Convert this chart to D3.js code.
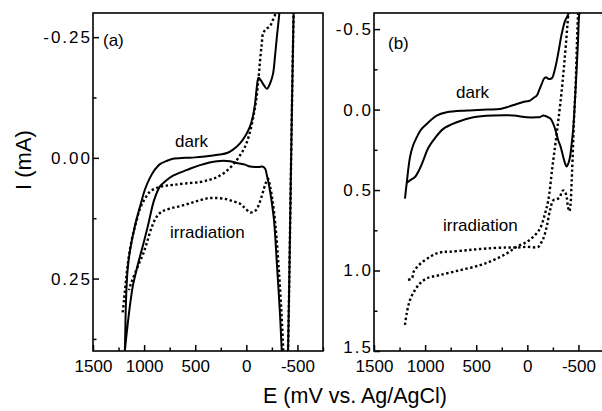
<!DOCTYPE html>
<html>
<head>
<meta charset="utf-8">
<script src="https://cdn.jsdelivr.net/npm/d3@7/dist/d3.min.js"></script>
<style>
  html, body { margin: 0; padding: 0; background: #fff; }
  svg { display: block; font-family: "Liberation Sans", Arial, sans-serif; }
</style>
</head>
<body>
<svg id="chart" width="602" height="411"></svg>
<script>
// Potential axis ticks (mV vs. Ag/AgCl), shared by both panels
const xMajorTicks = [1500, 1000, 500, 0, -500];
const xMinorTicks = [1250, 750, 250, -250, -750];

// Panel (a) current ticks (mA)
const yMajorTicksA = [-0.25, 0.00, 0.25];
const yMinorTicksA = [-0.125, 0.125, 0.375];
// Panel (b) current ticks (mA)
const yMajorTicksB = [-0.5, 0.0, 0.5, 1.0, 1.5];
const yMinorTicksB = [-0.25, 0.25, 0.75, 1.25];

// Panel (a): cyclic voltammogram in the dark, [E (mV), I (mA)]
const darkA = [
  [1192, 0.419], [1187, 0.388], [1177, 0.295], [1162, 0.233], [1138, 0.192],
  [1089, 0.140], [1040, 0.101], [991, 0.065], [942, 0.041], [893, 0.024],
  [845, 0.013], [776, 0.006], [717, 0.002], [600, 0.000], [502, -0.001],
  [404, -0.003], [326, -0.005], [258, -0.007], [189, -0.010], [130, -0.017],
  [62, -0.030], [3, -0.048], [-36, -0.065], [-65, -0.087], [-85, -0.112],
  [-104, -0.149], [-119, -0.166], [-144, -0.160], [-173, -0.150], [-202, -0.143],
  [-232, -0.154], [-261, -0.174], [-281, -0.211], [-300, -0.253], [-325, -0.304],
  [-339, -0.346], [-463, -0.346], [-462, -0.298], [-447, -0.118], [-432, 0.088],
  [-417, 0.295], [-408, 0.400], [-406, 0.429], [-354, 0.429],
  [-346, 0.398], [-329, 0.322], [-300, 0.223], [-271, 0.130], [-246, 0.088],
  [-222, 0.057], [-202, 0.037], [-183, 0.022], [-153, 0.018], [-124, 0.019],
  [-95, 0.019], [-36, 0.018], [13, 0.014], [81, 0.011], [160, 0.007],
  [287, 0.007], [453, 0.015], [580, 0.025], [717, 0.037], [796, 0.049],
  [845, 0.059], [903, 0.088], [962, 0.140], [1011, 0.181], [1060, 0.220],
  [1109, 0.264], [1138, 0.305], [1167, 0.357], [1187, 0.398], [1192, 0.419]
];

// Panel (a): cyclic voltammogram under irradiation
const irradA = [
  [1209, 0.320], [1197, 0.295], [1182, 0.264], [1167, 0.233], [1148, 0.202],
  [1118, 0.167], [1079, 0.134], [1040, 0.105], [991, 0.084], [942, 0.070],
  [874, 0.062], [796, 0.058], [717, 0.056], [600, 0.053], [453, 0.050],
  [355, 0.045], [287, 0.040], [209, 0.030], [130, 0.014], [62, -0.005],
  [13, -0.023], [-26, -0.046], [-65, -0.081], [-95, -0.118], [-117, -0.160],
  [-134, -0.201], [-150, -0.234], [-166, -0.259], [-202, -0.268], [-232, -0.273],
  [-261, -0.286], [-285, -0.298], [-310, -0.313], [-466, -0.346], [-462, -0.298],
  [-447, -0.118], [-432, 0.088], [-417, 0.295], [-408, 0.400], [-403, 0.429],
  [-369, 0.429], [-361, 0.398], [-344, 0.322], [-315, 0.223], [-285, 0.140],
  [-256, 0.088], [-232, 0.059], [-212, 0.043], [-192, 0.051], [-173, 0.063],
  [-153, 0.078], [-124, 0.096], [-100, 0.107], [-65, 0.112], [-36, 0.113],
  [13, 0.104], [62, 0.095], [130, 0.090], [209, 0.085], [306, 0.083],
  [385, 0.084], [473, 0.089], [551, 0.094], [649, 0.100], [747, 0.105],
  [825, 0.111], [874, 0.121], [923, 0.142], [972, 0.175], [1011, 0.200],
  [1040, 0.214], [1089, 0.239], [1128, 0.260], [1148, 0.274]
];

// Panel (b): cyclic voltammogram in the dark
const darkB = [
  [1197, 0.553], [1180, 0.457], [1148, 0.296], [1118, 0.223], [1082, 0.172],
  [1040, 0.124], [984, 0.089], [887, 0.037], [789, 0.017], [593, 0.006],
  [397, 0.000], [267, -0.003], [202, -0.014], [104, -0.035], [23, -0.050],
  [-26, -0.056], [-65, -0.074], [-92, -0.087], [-114, -0.118], [-141, -0.159],
  [-163, -0.192], [-183, -0.201], [-205, -0.192], [-238, -0.194], [-271, -0.254],
  [-303, -0.353], [-336, -0.469], [-369, -0.551], [-401, -0.593], [-417, -0.645],
  [-525, -0.645], [-508, -0.593], [-496, -0.428], [-483, -0.262], [-466, -0.056],
  [-450, 0.110], [-432, 0.223], [-417, 0.296], [-401, 0.335], [-385, 0.353],
  [-369, 0.335], [-352, 0.296], [-325, 0.229], [-303, 0.192], [-276, 0.130],
  [-254, 0.089], [-227, 0.056], [-205, 0.048], [-178, 0.040], [-156, 0.037],
  [-124, 0.046], [-92, 0.048], [5, 0.048], [137, 0.037], [333, 0.037],
  [529, 0.048], [691, 0.079], [822, 0.120], [920, 0.192], [972, 0.242],
  [1018, 0.316], [1060, 0.378], [1099, 0.419], [1148, 0.440], [1180, 0.457]
];

// Panel (b): cyclic voltammogram under irradiation
const irradB = [
  [1197, 1.338], [1180, 1.266], [1148, 1.183], [1099, 1.121], [1050, 1.080],
  [984, 1.049], [854, 1.028], [659, 0.998], [463, 0.967], [333, 0.936],
  [202, 0.894], [104, 0.853], [5, 0.822], [-58, 0.791], [-124, 0.739],
  [-173, 0.646], [-205, 0.564], [-246, 0.353], [-287, 0.151], [-329, -0.074],
  [-364, -0.304], [-401, -0.593], [-413, -0.675], [-501, -0.675], [-496, -0.593],
  [-486, -0.428], [-474, -0.180], [-456, 0.068], [-442, 0.316], [-432, 0.471],
  [-422, 0.595], [-411, 0.632], [-398, 0.607], [-385, 0.545], [-369, 0.511],
  [-352, 0.502], [-334, 0.514], [-320, 0.543], [-285, 0.558], [-254, 0.564],
  [-222, 0.626], [-189, 0.729], [-158, 0.799], [-141, 0.821], [-107, 0.853],
  [5, 0.853], [104, 0.857], [202, 0.857], [397, 0.863], [593, 0.874],
  [756, 0.883], [822, 0.884], [887, 0.894], [952, 0.915], [1040, 0.954],
  [1109, 1.004], [1131, 1.049], [1180, 1.059]
];

const svg = d3.select("#chart");
const FONT = 17;

const panels = [
  {
    id: "a", left: 93, right: 323, top: 13, bottom: 351,
    yDomain: [-0.30, 0.40], yMajor: yMajorTicksA, yMinor: yMinorTicksA,
    yFmt: d => d.toFixed(2),
    dark: darkA, irrad: irradA,
    tag: { text: "(a)", x: 103, y: 46 },
    darkLabel: { x: 175, y: 147 },
    irradLabel: { x: 170, y: 238 }
  },
  {
    id: "b", left: 374, right: 604, top: 13, bottom: 351,
    yDomain: [-0.6, 1.5], yMajor: yMajorTicksB, yMinor: yMinorTicksB,
    yFmt: d => d.toFixed(1),
    dark: darkB, irrad: irradB,
    tag: { text: "(b)", x: 388, y: 49 },
    darkLabel: { x: 456, y: 98 },
    irradLabel: { x: 443, y: 231 }
  }
];

const xFmt = d => (d < 0 ? "-" + Math.abs(d) : String(d));

panels.forEach(p => {
  const x = d3.scaleLinear().domain([1500, -750]).range([p.left, p.right]);
  const y = d3.scaleLinear().domain(p.yDomain).range([p.top, p.bottom]);
  const g = svg.append("g");

  const clipId = "clip-" + p.id;
  svg.append("clipPath").attr("id", clipId)
    .append("rect")
    .attr("x", p.left).attr("y", p.top)
    .attr("width", p.right - p.left).attr("height", p.bottom - p.top);

  // inward ticks along the bottom
  const xAxis = d3.axisBottom(x).tickValues(xMajorTicks).tickFormat(xFmt)
    .tickSize(-6).tickPadding(9);
  const xMinor = d3.axisBottom(x).tickValues(xMinorTicks).tickFormat("")
    .tickSize(-3.5);
  const gx = g.append("g").attr("transform", `translate(0,${p.bottom})`).call(xAxis);
  g.append("g").attr("transform", `translate(0,${p.bottom})`).call(xMinor);

  // inward ticks along the left
  const yAxis = d3.axisLeft(y).tickValues(p.yMajor).tickFormat(p.yFmt)
    .tickSize(-6).tickPadding(3);
  const yMinor = d3.axisLeft(y).tickValues(p.yMinor).tickFormat("")
    .tickSize(-3.5);
  const gy = g.append("g").attr("transform", `translate(${p.left},0)`).call(yAxis);
  g.append("g").attr("transform", `translate(${p.left},0)`).call(yMinor);

  g.selectAll(".domain").remove();
  g.selectAll(".tick line").attr("stroke", "#000").attr("stroke-width", 1.5);
  gx.selectAll("text").attr("font-size", FONT).attr("fill", "#000")
    .attr("font-family", "Liberation Sans, Arial, sans-serif");
  gy.selectAll("text").attr("font-size", FONT).attr("fill", "#000")
    .attr("font-family", "Liberation Sans, Arial, sans-serif")
    .attr("letter-spacing", "2px").attr("dx", "2px");
  // the lowest label sits in the corner, lifted clear of the E labels
  gy.selectAll(".tick").filter(d => d === p.yDomain[1])
    .select("text").attr("y", -3.5);

  // frame
  g.append("rect")
    .attr("x", p.left).attr("y", p.top)
    .attr("width", p.right - p.left).attr("height", p.bottom - p.top)
    .attr("fill", "none").attr("stroke", "#000").attr("stroke-width", 1.6);

  const line = d3.line()
    .x(d => x(d[0])).y(d => y(d[1]))
    .curve(d3.curveCatmullRom.alpha(0.5));

  const curves = g.append("g").attr("clip-path", `url(#${clipId})`);
  curves.append("path").datum(p.dark)
    .attr("d", line).attr("fill", "none")
    .attr("stroke", "#000").attr("stroke-width", 2)
    .attr("stroke-linejoin", "round");
  curves.append("path").datum(p.irrad)
    .attr("d", line).attr("fill", "none")
    .attr("stroke", "#000").attr("stroke-width", 2.4)
    .attr("stroke-dasharray", "2.4,2.5");

  const label = (t, pos) => g.append("text")
    .attr("x", pos.x).attr("y", pos.y)
    .attr("font-size", FONT).attr("fill", "#000").text(t);
  label(p.tag.text, p.tag);
  label("dark", p.darkLabel);
  label("irradiation", p.irradLabel);
});

// axis titles
svg.append("text")
  .attr("transform", "translate(31,160) rotate(-90)")
  .attr("text-anchor", "middle")
  .attr("font-size", 22).attr("fill", "#000")
  .text("I (mA)");

svg.append("text")
  .attr("x", 355).attr("y", 403)
  .attr("text-anchor", "middle")
  .attr("font-size", 21.5).attr("fill", "#000")
  .text("E (mV vs. Ag/AgCl)");
</script>
</body>
</html>
